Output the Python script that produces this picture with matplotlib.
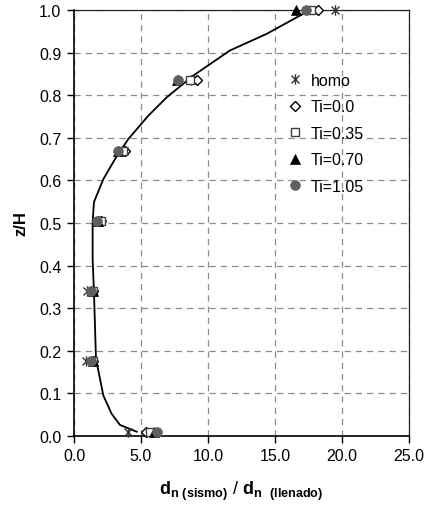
import matplotlib
matplotlib.use("Agg")
import matplotlib.pyplot as plt
from matplotlib.path import Path
import numpy as np

plt.rcParams['font.family'] = ['Liberation Sans', 'DejaVu Sans']
plt.rcParams['mathtext.fontset'] = 'custom'
plt.rcParams['mathtext.bf'] = 'Liberation Sans:bold'
plt.rcParams['mathtext.rm'] = 'Liberation Sans'

# heights z/H
z = [1.0, 0.835, 0.67, 0.505, 0.34, 0.175, 0.01]

homo = [19.5, 8.7, 3.7, 1.9, 0.95, 0.9, 4.0]
ti_00 = [18.2, 9.15, 3.8, 2.0, 1.4, 1.4, 5.35]
ti_035 = [17.65, 8.65, 3.65, 2.05, 1.4, 1.4, 5.65]
ti_070 = [16.6, 7.7, 3.3, 1.8, 1.4, 1.4, 5.95]
ti_105 = [17.35, 7.75, 3.25, 1.7, 1.25, 1.3, 6.2]

# fitted curve
curve_x = [4.68, 3.43, 2.81, 2.19, 1.64, 1.49, 1.39, 1.39, 1.49, 2.19, 3.06, 4.05,
           5.55, 6.92, 8.9, 11.64, 14.38, 17.1]
curve_z = [0.010, 0.026, 0.052, 0.095, 0.181, 0.338, 0.415, 0.502, 0.549, 0.603,
           0.650, 0.697, 0.752, 0.795, 0.846, 0.905, 0.944, 0.991]

series_labels = ['homo', 'Ti=0.0', 'Ti=0.35', 'Ti=0.70', 'Ti=1.05']
x_ticks = [0, 5, 10, 15, 20, 25]
y_ticks = [0.0, 0.1, 0.2, 0.3, 0.4, 0.5, 0.6, 0.7, 0.8, 0.9, 1.0]

# star marker: X plus vertical bar
star = Path([(-1, -1), (1, 1), (-1, 1), (1, -1), (0, -1.3), (0, 1.3)],
            [Path.MOVETO, Path.LINETO, Path.MOVETO, Path.LINETO, Path.MOVETO, Path.LINETO])

fig = plt.figure(figsize=(4.33, 5.10), dpi=100)
ax = fig.add_axes([74/433, 73/510, 335/433, 426/510])

ax.plot(curve_x, curve_z, color='black', lw=1.3, zorder=2)

ax.plot(homo, z, ls='none', marker=star, ms=7.5, mec='#333333', mfc='none', mew=1.0,
        label=series_labels[0], zorder=3, clip_on=False)
ax.plot(ti_00, z, ls='none', marker='D', ms=5, mec='black', mfc='white', mew=1.0,
        label=series_labels[1], zorder=3, clip_on=False)
ax.plot(ti_035, z, ls='none', marker='s', ms=6, mec='#404040', mfc='white', mew=1.0,
        label=series_labels[2], zorder=3, clip_on=False)
ax.plot(ti_070, z, ls='none', marker='^', ms=7, mec='black', mfc='black', mew=0.5,
        label=series_labels[3], zorder=3, clip_on=False)
ax.plot(ti_105, z, ls='none', marker='o', ms=7, mec='#5f5f5f', mfc='#5f5f5f', mew=0.5,
        label=series_labels[4], zorder=3, clip_on=False)

ax.set_xlim(0, 25)
ax.set_ylim(0, 1.0)
ax.set_xticks(x_ticks)
ax.set_xticklabels([f'{v:.1f}' for v in x_ticks])
ax.set_yticks(y_ticks)
ax.set_yticklabels([f'{v:.1f}' for v in y_ticks])
ax.tick_params(direction='out', length=5, width=1, labelsize=11.5, color='black', pad=4)
ax.grid(True, color='#8c8c8c', ls=(0, (5, 4)), lw=0.9)
ax.set_axisbelow(True)
for s in ['left', 'bottom']:
    ax.spines[s].set_linewidth(1.2)
for s in ['top', 'right']:
    ax.spines[s].set_linewidth(0.9)
    ax.spines[s].set_color('#222222')

ax.set_ylabel('z/H', fontsize=12, fontweight='bold', labelpad=8)
ax.set_xlabel(r'$\mathbf{d_{n\ (sismo)}}$ / $\mathbf{d_{n\ \ (llenado)}}$', fontsize=13, labelpad=11)

ax.legend(loc='upper left', bbox_to_anchor=(0.645, 0.853), frameon=False, fontsize=11.5,
          handlelength=0.6, handletextpad=0.7, labelspacing=0.72, borderaxespad=0,
          borderpad=0)

fig.savefig('out.png', dpi=100)
